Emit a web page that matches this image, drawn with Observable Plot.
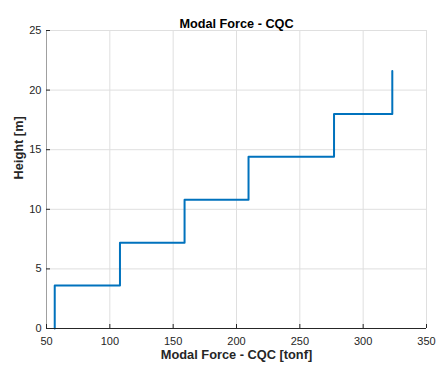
<!DOCTYPE html>
<html><head><meta charset="utf-8">
<script src="https://cdn.jsdelivr.net/npm/d3@7"></script>
<script src="https://cdn.jsdelivr.net/npm/@observablehq/plot@0.6"></script>
<style>body{margin:0;background:#fff} svg{font-family:"Liberation Sans",Arial,sans-serif}</style>
</head><body><div id="chart"></div>
<script>
const storyHeights = [0, 3.6, 7.2, 10.8, 14.4, 18, 21.6];
const storyForces = [56.5, 108, 159, 209.5, 277, 323];
const xTicks = [50, 100, 150, 200, 250, 300, 350];
const yTicks = [0, 5, 10, 15, 20, 25];
const titleText = "Modal Force - CQC";
const xLabel = "Modal Force - CQC [tonf]";
const yLabel = "Height [m]";

const pts = [];
storyForces.forEach((f, i) => {
  pts.push({x: f, y: storyHeights[i]});
  pts.push({x: f, y: storyHeights[i + 1]});
});

const chart = Plot.plot({
  width: 437, height: 368,
  marginLeft: 46, marginRight: 11, marginTop: 30, marginBottom: 40,
  style: {fontFamily: "'Liberation Sans', Arial, sans-serif", background: "#fff"},
  x: {domain: [50, 350]},
  y: {domain: [0, 25]},
  marks: [
    Plot.gridX(xTicks, {stroke: "#dfdfdf", strokeOpacity: 1}),
    Plot.gridY(yTicks, {stroke: "#dfdfdf", strokeOpacity: 1}),
    Plot.ruleX([50], {stroke: "#a0a0a0"}),
    Plot.axisX(xTicks, {tickSize: -4, tickPadding: 13, fontSize: 11, color: "#262626", stroke: "#262626", label: null, tickFormat: d => String(d)}),
    Plot.axisY(yTicks, {tickSize: -4, tickPadding: 9, fontSize: 11, color: "#262626", stroke: "#262626", label: null, tickFormat: d => String(d)}),
    Plot.line(pts, {x: "x", y: "y", stroke: "#0072BD", strokeWidth: 2}),
    Plot.ruleY([0], {stroke: "#262626"}),
    Plot.text([titleText], {frameAnchor: "top", dy: -12, fontSize: 12.7, fontWeight: "bold", fill: "#000"}),
    Plot.text([xLabel], {frameAnchor: "bottom", dy: 30, fontSize: 12.8, fontWeight: "bold", fill: "#262626"}),
    Plot.text([yLabel], {frameAnchor: "left", dx: -28, rotate: -90, fontSize: 12.8, fontWeight: "bold", fill: "#262626"})
  ]
});
document.getElementById("chart").appendChild(chart);
</script>
</body></html>
